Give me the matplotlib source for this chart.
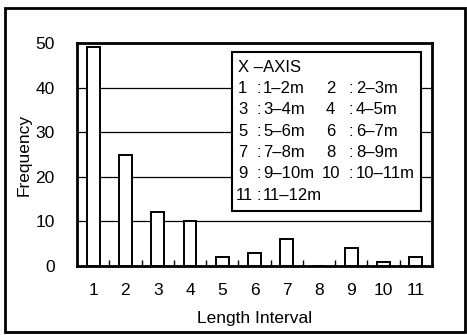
import matplotlib
matplotlib.use("Agg")
import matplotlib.pyplot as plt
from matplotlib.patches import Rectangle
import numpy as np

plt.rcParams['font.family'] = ['Liberation Sans', 'DejaVu Sans']

categories = [1, 2, 3, 4, 5, 6, 7, 8, 9, 10, 11]
frequency = [49, 25, 12, 10, 2, 3, 6, 0, 4, 1, 2]
ranges = ["1–2m", "2–3m", "3–4m", "4–5m", "5–6m", "6–7m", "7–8m",
          "8–9m", "9–10m", "10–11m", "11–12m"]
yticks = [0, 10, 20, 30, 40, 50]

W, H = 467, 335
FS = 12.5
LFS = 12
fig = plt.figure(figsize=(W / 100, H / 100), dpi=100)
ax = fig.add_axes([77 / W, (H - 266) / H, 355 / W, 223 / H])

# outer frame
fig.patches.append(Rectangle((5 / W, 3 / H), 460 / W, 324 / H, transform=fig.transFigure,
                             fill=False, edgecolor='black', linewidth=2.0))

for y in yticks[1:-1]:
    ax.axhline(y, color='black', linewidth=0.9, zorder=1)

ax.bar(categories, frequency, width=0.4, color='white', edgecolor='black',
       linewidth=1.4, zorder=3)

ax.set_xlim(0.5, 11.5)
ax.set_ylim(0, 50)
ax.set_xticks(categories)
ax.set_xticklabels([str(c) for c in categories])
ax.set_yticks(yticks)
ax.set_xticks(np.arange(1.5, 11.5, 1), minor=True)
ax.tick_params(axis='x', which='major', length=0, pad=12, labelsize=FS)
ax.tick_params(axis='x', which='minor', direction='in', length=4, width=1)
ax.tick_params(axis='y', length=0, pad=16, labelsize=FS)
for s in ax.spines.values():
    s.set_linewidth(2.0)
ax.set_xlabel("Length Interval", fontsize=FS)
ax.set_ylabel("Frequency", fontsize=FS)
ax.xaxis.set_label_coords(0.5, -0.20)
ax.yaxis.set_label_coords(-0.127, 0.5)

# explanatory box
def ax_x(px):
    return (px - 77) / 355

def ax_y(py):
    return (266 - py) / 223

ax.add_patch(Rectangle((ax_x(232), ax_y(211)), ax_x(421) - ax_x(232), ax_y(52) - ax_y(211),
                       transform=ax.transAxes, facecolor='white', edgecolor='black',
                       linewidth=1.5, zorder=5))
line_y = [67, 88.3, 109.3, 131, 152.3, 174, 196]
ax.text(ax_x(238), ax_y(line_y[0]), "X –AXIS", transform=ax.transAxes, fontsize=LFS,
        va='center', ha='left', zorder=6)
for i, (c, r) in enumerate(zip(categories, ranges)):
    row = i // 2 + 1
    yy = ax_y(line_y[row])
    if i % 2 == 0:
        nx, cx, rx = (238 if c < 10 else 236), 256, 263
    else:
        nx, cx, rx = (326 if c < 10 else 322), 348, 356
    ax.text(ax_x(nx), yy, str(c), transform=ax.transAxes, fontsize=LFS,
            va='center', ha='left', zorder=6)
    ax.text(ax_x(cx), yy, ":", transform=ax.transAxes, fontsize=LFS,
            va='center', ha='left', zorder=6)
    ax.text(ax_x(rx), yy, r, transform=ax.transAxes, fontsize=LFS,
            va='center', ha='left', zorder=6)

fig.savefig("out.png", dpi=100)
